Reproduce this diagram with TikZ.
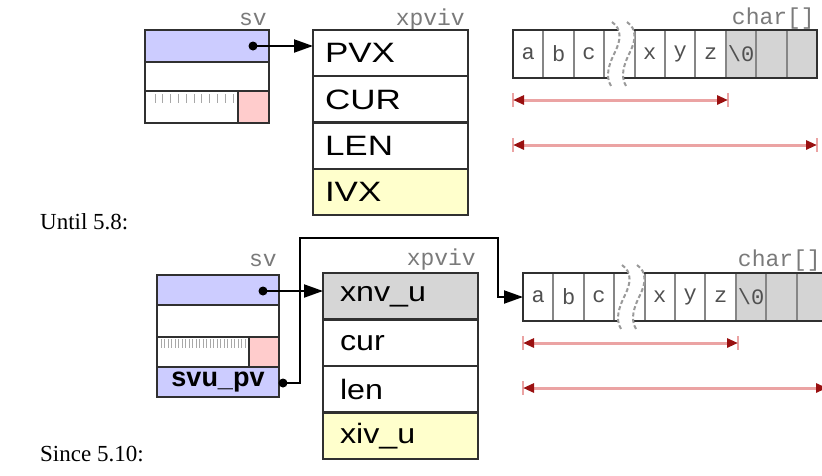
\documentclass[tikz,border=0pt]{standalone}
\usepackage{fontspec}
\setmainfont{Liberation Serif}
\newfontfamily\sansf{Liberation Sans}
\newfontfamily\monof{Liberation Mono}
\usetikzlibrary{arrows.meta}
\definecolor{svblue}{HTML}{CCCCFF}
\definecolor{svpink}{HTML}{FFCCCC}
\definecolor{ivyellow}{HTML}{FFFFCC}
\definecolor{nvgray}{HTML}{D6D6D6}
\definecolor{arrgray}{HTML}{D4D4D4}
\definecolor{boxline}{HTML}{303030}
\definecolor{sepgray}{HTML}{868686}
\definecolor{lblgray}{HTML}{7A7A7A}
\definecolor{cellgray}{HTML}{505050}
\definecolor{tickgray}{HTML}{A8A8A8}
\definecolor{measline}{HTML}{EBA3A3}
\definecolor{meashead}{HTML}{9A1010}
\definecolor{breakgray}{HTML}{9A9A9A}
\tikzset{
  cellbox/.style={draw=boxline, line width=2.2pt, inner sep=0pt, outer sep=0pt, anchor=north west},
  fieldtop/.style={cellbox, text width=131pt, inner xsep=12pt, align=left, minimum height=46.25pt,
    font=\fontsize{28}{30}\selectfont\sansf},
  fieldbot/.style={cellbox, text width=121pt, inner xsep=17pt, align=left, minimum height=46.5pt,
    font=\fontsize{28}{30}\selectfont\sansf},
  charcell/.style={draw=sepgray, line width=2pt, inner sep=0pt, outer sep=0pt, anchor=north west,
    minimum width=30.4pt, minimum height=48pt, font=\fontsize{22}{24}\selectfont\monof, text=cellgray},
  lbl/.style={anchor=base east, inner sep=0pt, font=\fontsize{23}{25}\selectfont\monof, text=lblgray},
  ptr/.style={line width=2pt, -{Triangle[length=19pt,width=13pt]}},
  meas/.style={draw=measline, line width=3pt,
    {Triangle[color=meashead,length=11pt,width=9pt]}-{Triangle[color=meashead,length=11pt,width=9pt]}},
  measbar/.style={draw=measline, line width=2pt},
  heading/.style={anchor=base west, inner sep=0pt, font=\fontsize{23}{25}\selectfont}
}
\newcommand\chararr[3]{%
  \foreach \t [count=\i from 0] in {a,b,c,{},x,y,z,{\textbackslash 0},{},{}} {
    \pgfmathsetmacro\cx{#2+30.4*\i}
    \ifnum\i>6 \def\cf{arrgray}\else\def\cf{white}\fi
    \node[charcell, fill=\cf] (#1\i) at (\cx,#3) {\t};
  }
  \draw[boxline, line width=2.6pt] (#10.north west) rectangle (#19.south east);
  \begin{scope}[shift={(#2-513,#3-30)}]
    \fill[white] (612,22) .. controls (622,29) and (621,40) .. (615,52)
      .. controls (609,64) and (605,76) .. (611,86) -- (626,86)
      .. controls (620,76) and (624,64) .. (630,52)
      .. controls (636,40) and (637,29) .. (627,22) -- cycle;
    \draw[breakgray, line width=2pt, dash pattern=on 4pt off 2.5pt]
      (612,22) .. controls (622,29) and (621,40) .. (615,52)
      .. controls (609,64) and (605,76) .. (611,86);
    \draw[breakgray, line width=2pt, dash pattern=on 4pt off 2.5pt]
      (627,22) .. controls (637,29) and (636,40) .. (630,52)
      .. controls (624,64) and (620,76) .. (626,86);
  \end{scope}
  \coordinate (#1ma) at (#2,#3+70);
  \coordinate (#1mb) at (#2+215,#3+70);
  \coordinate (#1mc) at (#2,#3+115);
  \coordinate (#1md) at (#2+304,#3+115);
  \foreach \c in {ma,mb,mc,md}
    \draw[measbar] ([yshift=7pt]#1\c) -- ([yshift=-7pt]#1\c);
  \draw[meas] (#1ma) -- (#1mb);
  \draw[meas] (#1mc) -- (#1md);
}
\begin{document}
\begin{tikzpicture}[x=1pt,y=-1pt]
\useasboundingbox (0,0) rectangle (822,475);
\fill[white] (0,0) rectangle (822,475);

% ---------- Until 5.8 ----------
\node[lbl] (svlblA) at (267,25) {sv};
\node[cellbox, fill=svblue, minimum width=124pt, minimum height=32pt] (svA1) at (145,30) {};
\node[cellbox, fill=white, minimum width=124pt, minimum height=29pt] (svA2) at (145,62) {};
\node[cellbox, fill=white, minimum width=93pt, minimum height=32pt] (svA3) at (145,91) {};
\node[cellbox, fill=svpink, minimum width=31pt, minimum height=32pt] (svA4) at (238,91) {};
\foreach \k in {0,...,10} \draw[tickgray, line width=1pt] (155+7.8*\k,94) -- ++(0,9);

\node[lbl] (xpA) at (465,25) {xpviv};
\node[fieldtop, fill=white] (pvx) at (313,30) {\scalebox{1.25}[1]{PVX}};
\node[fieldtop, fill=white] (cur) at (313,76.25) {\scalebox{1.25}[1]{CUR}};
\node[fieldtop, fill=white] (len) at (313,122.5) {\scalebox{1.25}[1]{LEN}};
\node[fieldtop, fill=ivyellow] (ivx) at (313,168.75) {\scalebox{1.25}[1]{IVX}};

\coordinate (dotA) at (253,46);
\draw[ptr] (dotA) -- (dotA -| pvx.west);
\fill (dotA) circle[radius=4.5pt];

\node[lbl] (chA) at (815,24) {char[]};
\chararr{A}{513}{30}

\node[heading] (until) at (40,229) {Until 5.8:};

% ---------- Since 5.10 ----------
\node[lbl] (svlblB) at (277,266) {sv};
\node[cellbox, fill=svblue, minimum width=122pt, minimum height=30pt] (svB1) at (157,275) {};
\node[cellbox, fill=white, minimum width=122pt, minimum height=32pt] (svB2) at (157,305) {};
\node[cellbox, fill=white, minimum width=92pt, minimum height=30pt] (svB3) at (157,337) {};
\node[cellbox, fill=svpink, minimum width=30pt, minimum height=30pt] (svB4) at (249,337) {};
\foreach \k in {0,...,24} \draw[tickgray, line width=0.9pt] (161+3.5*\k,339) -- ++(0,9);
\node[cellbox, fill=svblue, minimum width=122pt, minimum height=30pt,
  font=\fontsize{27}{29}\selectfont\sansf\bfseries] (svupv) at (157,367) {svu\_pv};

\node[lbl] (xpB) at (476,265) {xpviv};
\node[fieldbot, fill=nvgray] (xnv) at (323,273) {\scalebox{1.15}[1]{xnv\_u}};
\node[fieldbot, fill=white] (curB) at (323,319.5) {\scalebox{1.15}[1]{cur}};
\node[fieldbot, fill=white] (lenB) at (323,366) {\scalebox{1.15}[1]{len}};
\node[fieldbot, fill=ivyellow] (xiv) at (323,412.5) {\scalebox{1.15}[1]{xiv\_u}};

\coordinate (dotB) at (263,291);
\draw[ptr] (dotB) -- (dotB -| xnv.west);
\fill (dotB) circle[radius=4.5pt];

\node[lbl] (chB) at (821,266) {char[]};
\chararr{B}{523}{273}

\coordinate (dotC) at (283,383);
\coordinate (upC) at (300,238);
\coordinate (overC) at (498,238);
\draw[ptr] (dotC) -| (upC) -- (overC) |- (B0.west);
\fill (dotC) circle[radius=4.5pt];

\node[heading] (since) at (40,461) {Since 5.10:};
\end{tikzpicture}
\end{document}
